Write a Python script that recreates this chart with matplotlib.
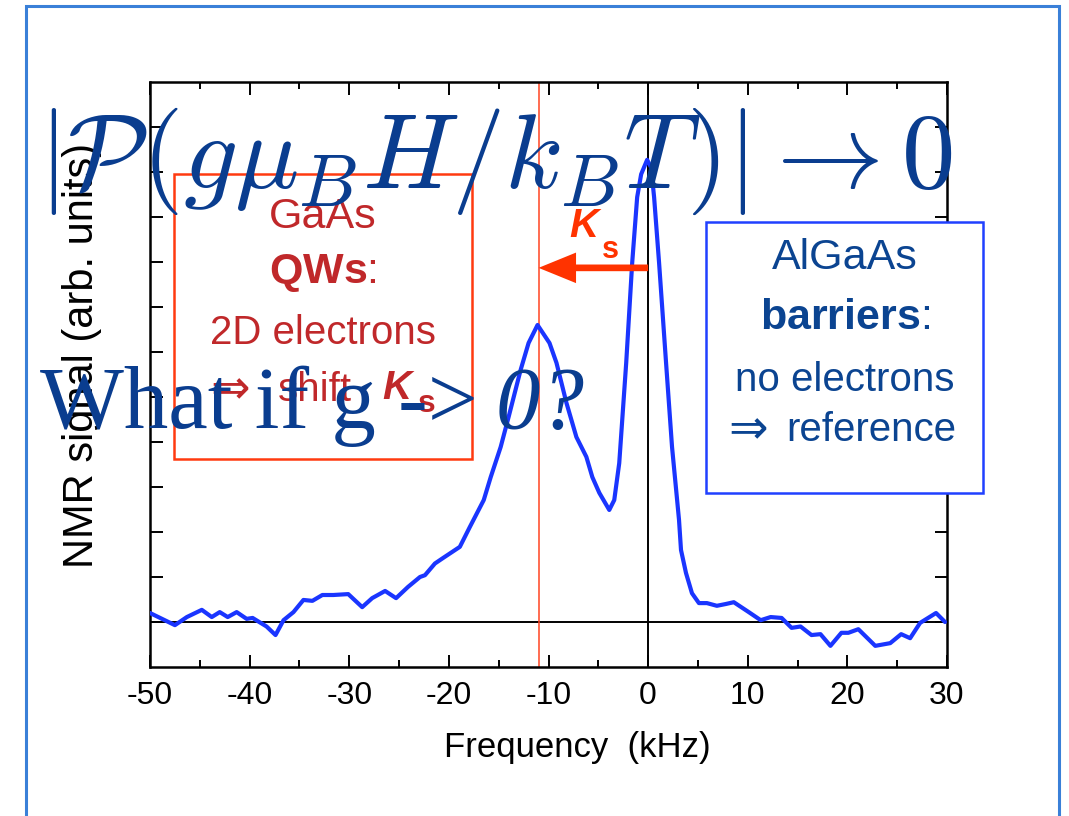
import matplotlib
matplotlib.use("Agg")
import matplotlib.pyplot as plt
from matplotlib.patches import Rectangle
import numpy as np

# ---- data (kHz, arb. units; baseline = 0) ----
freq = [-50.0, -47.5, -46.3, -44.8, -43.8, -43.0, -42.2, -41.3, -40.3, -39.7,
        -38.3, -37.4, -36.6, -35.6, -34.6, -33.7, -32.7, -31.6, -30.1, -28.7,
        -27.7, -26.4, -25.3, -24.1, -22.9, -22.4, -21.4, -20.6, -18.9, -17.9,
        -16.5, -15.8, -14.8, -14.0, -12.8, -12.0, -11.1, -9.9, -9.2, -8.2,
        -7.2, -6.2, -5.6, -4.9, -3.9, -3.4, -2.9, -2.2, -1.6, -1.1,
        -0.7, -0.1, 0.3, 0.6, 1.1, 1.8, 2.4, 3.1, 3.3, 3.8, 4.4,
        5.1, 5.9, 6.9, 7.8, 8.6, 10.1, 11.3, 12.3, 13.4, 14.4,
        15.3, 16.4, 17.3, 18.3, 19.4, 20.1, 21.1, 22.8, 24.3, 25.4,
        26.3, 27.3, 28.1, 28.9, 29.8]
signal = [0.20, -0.07, 0.11, 0.27, 0.11, 0.22, 0.11, 0.22, 0.07, 0.09,
          -0.10, -0.29, 0.04, 0.22, 0.49, 0.47, 0.60, 0.60, 0.62, 0.33,
          0.53, 0.69, 0.53, 0.78, 1.00, 1.04, 1.30, 1.42, 1.67, 2.11,
          2.71, 3.22, 3.89, 4.56, 5.60, 6.20, 6.60, 6.20, 5.76, 4.87,
          4.11, 3.67, 3.22, 2.87, 2.49, 2.71, 3.53, 5.76, 7.98, 9.44,
          9.95, 10.27, 10.10, 9.44, 7.98, 5.76, 3.89, 2.27, 1.60, 1.09, 0.64,
          0.42, 0.42, 0.36, 0.40, 0.44, 0.22, 0.04, 0.11, 0.09, -0.13,
          -0.10, -0.29, -0.27, -0.53, -0.24, -0.24, -0.16, -0.53, -0.47, -0.27,
          -0.36, -0.02, 0.09, 0.20, 0.00]
shift_ks = -11.0        # QW line position (kHz)
x_ticks = [-50, -40, -30, -20, -10, 0, 10, 20, 30]

W, H = 1069, 816
def px(x, y):
    return x / W, 1 - y / H

plt.rcParams['mathtext.fontset'] = 'custom'
plt.rcParams['mathtext.rm'] = 'Liberation Sans'
plt.rcParams['mathtext.bf'] = 'Liberation Sans:bold'
plt.rcParams['mathtext.bfit'] = 'Liberation Sans:bold:italic'
plt.rcParams['mathtext.it'] = 'Liberation Sans:italic'

sans = ['Liberation Sans', 'DejaVu Sans']
red_txt = '#c0282a'
blue_txt = '#0b4491'
navy = '#0a3d8f'

fig = plt.figure(figsize=(W / 100, H / 100), dpi=100)
ax = fig.add_axes([150 / W, 1 - 667 / H, (947 - 150) / W, (667 - 82) / H])

ax.plot(freq, signal, color='#1a35ff', lw=3.0, zorder=3,
        solid_joinstyle='round', solid_capstyle='round')
ax.axhline(0, color='black', lw=1.4, zorder=2)
ax.axvline(0, color='black', lw=1.4, zorder=2)
ax.axvline(shift_ks, color='#ff4422', lw=1.1, zorder=2)

ax.set_xlim(-50, 30)
ax.set_ylim(-1, 12)
ax.set_xticks(x_ticks)
ax.set_xticks(np.arange(-45, 30, 10), minor=True)
ax.set_xticklabels([str(t) for t in x_ticks], family=sans, fontsize=23)
ax.set_yticks(range(0, 12))
ax.set_yticklabels([])
ax.tick_params(direction='in', top=True, right=True, length=9, width=1.4, pad=10)
ax.tick_params(which='minor', direction='in', top=True, length=5, width=1.4)
for s in ax.spines.values():
    s.set_linewidth(1.8)

fig.text(*px(577, 748), 'Frequency  (kHz)', family=sans, fontsize=25,
         ha='center', va='center')
fig.text(*px(82, 355), 'NMR signal (arb. units)', family=sans, fontsize=30,
         rotation=90, ha='center', va='center')

# arrow showing the Knight shift
ax.annotate('', xy=(shift_ks, 7.87), xytext=(0, 7.87),
            arrowprops=dict(arrowstyle='simple,head_length=1.35,head_width=1.1,tail_width=0.24',
                            mutation_scale=20, color='#ff3300', lw=0,
                            shrinkA=0, shrinkB=0), zorder=4)
fig.text(*px(584, 226), 'K', color='#ff3300', fontsize=29, weight='bold',
         style='italic', family='Liberation Sans', ha='center', va='center')
fig.text(*px(610, 250), 's', color='#ff3300', fontsize=22, weight='bold',
         family='Liberation Sans', ha='center', va='center')

# red box : GaAs QWs
red_box = Rectangle(px(174, 459), (472 - 174) / W, (459 - 174) / H,
                    transform=fig.transFigure, fill=True, facecolor='white',
                    edgecolor='#ff3a10', lw=1.8, zorder=5)
fig.add_artist(red_box)
fig.text(*px(323, 217), 'GaAs', color=red_txt, fontsize=31,
         family=sans, ha='center', va='center', zorder=6)
fig.text(*px(323, 273), r'$\mathbf{QWs}$:', color=red_txt, fontsize=31,
         family=sans, ha='center', va='center', zorder=6)
fig.text(*px(323, 333), '2D electrons', color=red_txt, fontsize=29,
         family=sans, ha='center', va='center', zorder=6)
fig.text(*px(230, 391), '\u21d2', color=red_txt, fontsize=34,
         family='DejaVu Sans', ha='center', va='center', zorder=6)
fig.text(*px(315, 390), 'shift', color=red_txt, fontsize=29,
         family=sans, ha='center', va='center', zorder=6)
fig.text(*px(397, 388), 'K', color=red_txt, fontsize=29, weight='bold',
         style='italic', family=sans, ha='center', va='center', zorder=6)
fig.text(*px(427, 404), 's', color=red_txt, fontsize=23, weight='bold',
         family=sans, ha='center', va='center', zorder=6)

# blue box : AlGaAs barriers
blue_box = Rectangle(px(706, 493), (983 - 706) / W, (493 - 222) / H,
                     transform=fig.transFigure, fill=True, facecolor='white',
                     edgecolor='#2040ff', lw=1.8, zorder=5)
fig.add_artist(blue_box)
fig.text(*px(845, 258), 'AlGaAs', color=blue_txt, fontsize=31,
         family=sans, ha='center', va='center', zorder=6)
fig.text(*px(845, 318), r'$\mathbf{barriers}$:', color=blue_txt, fontsize=31,
         family=sans, ha='center', va='center', zorder=6)
fig.text(*px(845, 380), 'no electrons', color=blue_txt, fontsize=29,
         family=sans, ha='center', va='center', zorder=6)
fig.text(*px(748, 431), '\u21d2', color=blue_txt, fontsize=34,
         family='DejaVu Sans', ha='center', va='center', zorder=6)
fig.text(*px(871, 430), 'reference', color=blue_txt, fontsize=29,
         family=sans, ha='center', va='center', zorder=6)

# big overlaid slide text
fig.text(*px(38, 188), r'$|\mathcal{P}(g\mu_B H/k_B T)| \to 0$', color=navy,
         fontsize=77, math_fontfamily='cm', ha='left', va='baseline', zorder=10)
fig.text(*px(40, 428), 'What if g -> ', color=navy, fontsize=64,
         family='Liberation Serif', ha='left', va='baseline', zorder=10)
fig.text(*px(585, 428), '0?', color=navy, fontsize=64, style='italic',
         family='Liberation Serif', ha='right', va='baseline', zorder=10)

# outer slide frame
frame = Rectangle(px(26, 840), (1059 - 26) / W, (840 - 6) / H,
                  transform=fig.transFigure, fill=False, edgecolor='#3a80d8',
                  lw=2.2, zorder=0, clip_on=False)
fig.add_artist(frame)

fig.savefig('out.png', dpi=100)
